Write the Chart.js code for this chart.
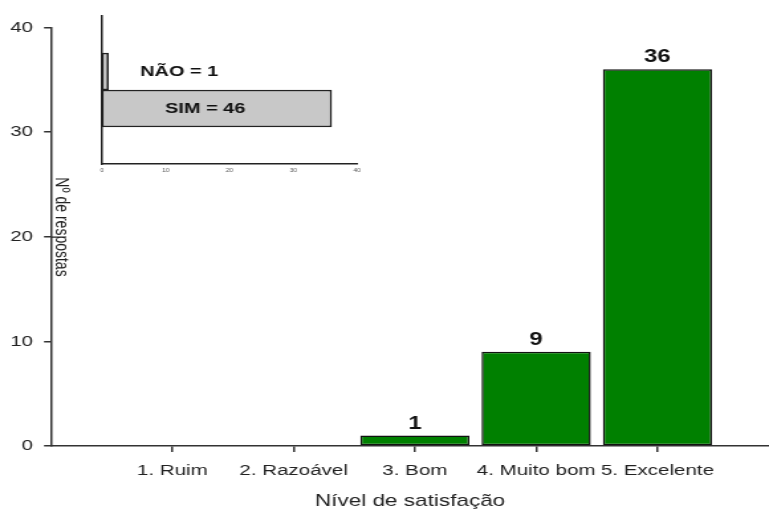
<!DOCTYPE html>
<html lang="pt">
<head>
  <meta charset="UTF-8">
  <title>Nível de satisfação</title>
  <script src="https://cdn.jsdelivr.net/npm/chart.js"></script>
  <style>
    body {
      margin: 0;
      background: white;
    }

    #wrap {
      position: relative;
      width: 769px;
      height: 513px;
    }

    /* the reference picture is stretched sideways, so the bitmaps are too */
    #wrap canvas {
      position: absolute;
      left: 0;
      top: 0;
      width: 769px !important;
      height: 513px !important;
    }
  </style>
</head>
<body>

<div id="wrap">
  <canvas id="mainChart" width="580" height="513"></canvas>
  <canvas id="insetChart" width="580" height="513"></canvas>
</div>

<script>
  // main chart
  var categories = ['1. Ruim', '2. Razoável', '3. Bom', '4. Muito bom', '5. Excelente'];
  var respostas = [0, 0, 1, 9, 36];
  var yTicks = [0, 10, 20, 30, 40];

  // inset chart
  var insetCategories = ['NÃO', 'SIM'];
  var insetValues = [1, 36];
  var insetText = ['NÃO = 1', 'SIM = 46'];
  var insetTicks = [0, 10, 20, 30, 40];

  var FONT = "'Liberation Sans', Arial, sans-serif";
  var INK = '#222';

  var barLabels = {
    id: 'barLabels',
    afterDatasetsDraw: function (chart) {
      var ctx = chart.ctx;
      var bars = chart.getDatasetMeta(0).data;
      ctx.save();
      ctx.font = 'bold 18px ' + FONT;
      ctx.fillStyle = '#111';
      ctx.textAlign = 'center';
      ctx.textBaseline = 'alphabetic';
      bars.forEach(function (bar, i) {
        if (respostas[i] > 0) {
          ctx.fillText(respostas[i], bar.x, bar.y - 7);
        }
      });
      ctx.restore();
    }
  };

  // y title sits inside the plot, reading downwards
  var yTitle = {
    id: 'yTitle',
    afterDraw: function (chart) {
      var ctx = chart.ctx;
      ctx.save();
      ctx.translate(46.3, 227);
      ctx.rotate(Math.PI / 2);
      ctx.font = '14px ' + FONT;
      ctx.fillStyle = INK;
      ctx.textAlign = 'center';
      ctx.textBaseline = 'middle';
      ctx.fillText('Nº de respostas', 0, 0);
      ctx.restore();
    }
  };

  new Chart(document.getElementById('mainChart'), {
    type: 'bar',
    data: {
      datasets: [{
        data: categories.map(function (c, i) { return { x: i + 1, y: respostas[i] }; }),
        backgroundColor: '#008000',
        borderColor: '#111',
        borderWidth: 1.5,
        borderSkipped: false,
        barPercentage: 0.9,
        categoryPercentage: 1
      }]
    },
    options: {
      responsive: false,
      devicePixelRatio: 1,
      animation: false,
      layout: { padding: { top: 27.5, left: 0, right: 0, bottom: 0 } },
      plugins: {
        legend: { display: false },
        tooltip: { enabled: false }
      },
      scales: {
        x: {
          type: 'linear',
          min: 0,
          max: 5.92,
          offset: false,
          afterBuildTicks: function (scale) {
            scale.ticks = categories.map(function (c, i) { return { value: i + 1 }; });
          },
          afterFit: function (scale) { scale.height = 67; },
          ticks: {
            autoSkip: false,
            maxRotation: 0,
            minRotation: 0,
            padding: 9,
            color: INK,
            font: { family: FONT, size: 15.5 },
            callback: function (v) { return categories[v - 1]; }
          },
          grid: {
            offset: false,
            drawOnChartArea: false,
            tickLength: 6,
            color: '#333',
            lineWidth: 1.5
          },
          border: { display: true, color: '#333', width: 1.5 },
          title: {
            display: true,
            text: 'Nível de satisfação',
            color: INK,
            font: { family: FONT, size: 17 },
            padding: { top: 4, bottom: 1 }
          }
        },
        y: {
          min: 0,
          max: 40,
          afterBuildTicks: function (scale) {
            scale.ticks = yTicks.map(function (v) { return { value: v }; });
          },
          afterFit: function (scale) { scale.width = 38.5; },
          ticks: {
            padding: 8.3,
            color: INK,
            font: { family: FONT, size: 15.5 }
          },
          grid: {
            drawOnChartArea: false,
            tickLength: 5.3,
            color: '#333',
            lineWidth: 1.5
          },
          border: { display: true, color: '#333', width: 1.5 }
        }
      }
    },
    plugins: [barLabels, yTitle]
  });

  var insetLabels = {
    id: 'insetLabels',
    afterDatasetsDraw: function (chart) {
      var ctx = chart.ctx;
      var xs = chart.scales.x;
      var bars = chart.getDatasetMeta(0).data;
      var at = [12.1, 16.2];
      ctx.save();
      ctx.font = 'bold 15px ' + FONT;
      ctx.fillStyle = '#111';
      ctx.textAlign = 'center';
      ctx.textBaseline = 'middle';
      insetText.forEach(function (t, i) {
        ctx.fillText(t, xs.getPixelForValue(at[i]), bars[i + 1].y);
      });
      ctx.restore();
    }
  };

  new Chart(document.getElementById('insetChart'), {
    type: 'bar',
    data: {
      labels: [''].concat(insetCategories, ['']),
      datasets: [{
        data: [null].concat(insetValues, [null]),
        backgroundColor: '#c8c8c8',
        borderColor: '#222',
        borderWidth: 1.5,
        borderSkipped: false,
        barPercentage: 1,
        categoryPercentage: 1
      }]
    },
    options: {
      indexAxis: 'y',
      responsive: false,
      devicePixelRatio: 1,
      animation: false,
      layout: { padding: { top: 16, left: 0, right: 310.7, bottom: 0 } },
      plugins: {
        legend: { display: false },
        tooltip: { enabled: false }
      },
      scales: {
        x: {
          min: 0,
          max: 40,
          afterBuildTicks: function (scale) {
            scale.ticks = insetTicks.map(function (v) { return { value: v }; });
          },
          afterFit: function (scale) { scale.height = 349; },
          ticks: {
            padding: 4,
            color: '#555',
            font: { family: FONT, size: 5 }
          },
          grid: { display: false, drawTicks: false },
          border: { display: true, color: '#222', width: 1.5 }
        },
        y: {
          afterFit: function (scale) { scale.width = 76.9; },
          ticks: { display: false },
          grid: { display: false, drawTicks: false },
          border: { display: true, color: '#222', width: 1.5 }
        }
      }
    },
    plugins: [insetLabels]
  });
</script>

</body>
</html>
